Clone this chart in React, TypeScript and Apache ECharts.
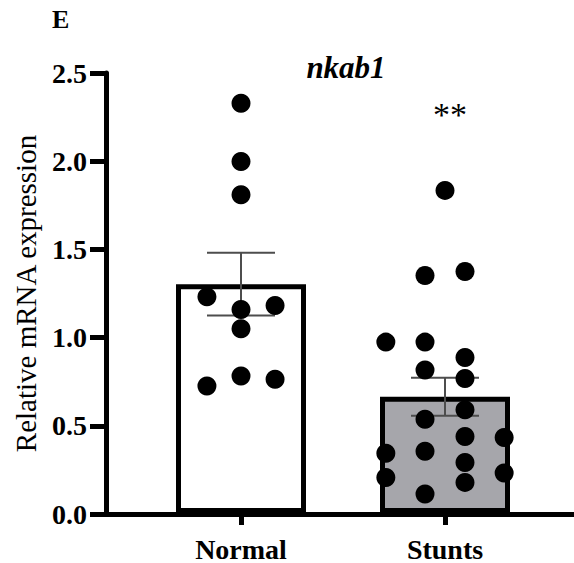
import React, { useEffect, useRef } from "react";
import * as echarts from "echarts";

const categories = ["Normal", "Stunts"];
const means = [1.3, 0.66];
const sems = [0.178, 0.108];
const yTicks = [0, 0.5, 1.0, 1.5, 2.0, 2.5];

// individual points: value and horizontal jitter (in category units)
const normalValues = [2.328, 1.997, 1.808, 1.228, 1.156, 1.179, 1.047, 0.778, 0.722, 0.76];
const normalJitter = [0, 0, 0, -0.167, 0, 0.167, 0, 0, -0.167, 0.167];
const stuntsValues = [
  1.833, 1.349, 1.372, 0.971, 0.971, 0.884, 0.812, 0.764, 0.586, 0.533,
  0.435, 0.429, 0.34, 0.351, 0.287, 0.202, 0.227, 0.174, 0.108,
];
const stuntsJitter = [
  0, -0.098, 0.098, -0.29, -0.098, 0.098, -0.098, 0.098, 0.098, -0.098,
  0.098, 0.29, -0.29, -0.098, 0.098, -0.29, 0.29, 0.098, -0.098,
];

const SERIF = "'Liberation Serif', 'Times New Roman', serif";

export default function App() {
  const ref = useRef<HTMLDivElement>(null);
  useEffect(() => {
    if (!ref.current) return;
    const chart = echarts.init(ref.current, null, { renderer: "svg" });
    const points = [
      ...normalValues.map((v, i) => [0 + normalJitter[i], v]),
      ...stuntsValues.map((v, i) => [1 + stuntsJitter[i], v]),
    ];
    const errData = means.map((m, i) => [i, m, sems[i]]);
    chart.setOption({
      animation: false,
      backgroundColor: "#ffffff",
      title: [
        {
          text: "E",
          left: 47,
          top: 1,
          textStyle: { fontFamily: SERIF, fontWeight: "bold", fontSize: 26, color: "#000" },
        },
        {
          text: "nkab1",
          left: 341,
          top: 47,
          textAlign: "center",
          textStyle: {
            fontFamily: SERIF,
            fontWeight: "bold",
            fontStyle: "italic",
            fontSize: 31,
            color: "#000",
          },
        },
        {
          text: "**",
          left: 445,
          top: 92,
          textAlign: "center",
          textStyle: { fontFamily: SERIF, fontWeight: "normal", fontSize: 34, color: "#000" },
        },
      ],
      grid: [
        { left: 106, right: 0, top: 73, bottom: 49 },
        { left: 139, width: 408, top: 73, bottom: 49 },
      ],
      xAxis: [
        {
          gridIndex: 0,
          type: "value",
          min: 0,
          max: 1,
          axisLine: { show: true, lineStyle: { color: "#000", width: 5 } },
          axisTick: { show: false },
          axisLabel: { show: false },
          splitLine: { show: false },
        },
        {
          gridIndex: 1,
          type: "category",
          data: categories,
          axisLine: { show: false },
          axisTick: { show: true, alignWithLabel: true, length: 12, lineStyle: { color: "#000", width: 5 } },
          axisLabel: {
            margin: 22,
            fontFamily: SERIF,
            fontWeight: "bold",
            fontSize: 28,
            color: "#000",
          },
          splitLine: { show: false },
        },
        {
          gridIndex: 1,
          type: "value",
          min: -0.5,
          max: 1.5,
          show: false,
        },
      ],
      yAxis: [
        {
          gridIndex: 0,
          type: "value",
          min: 0,
          max: 2.5,
          interval: 0.5,
          name: "Relative mRNA expression",
          nameLocation: "middle",
          nameGap: 66,
          nameTextStyle: { fontFamily: SERIF, fontSize: 29, color: "#000" },
          axisLine: { show: true, lineStyle: { color: "#000", width: 5 } },
          axisTick: { show: true, length: 16, lineStyle: { color: "#000", width: 5 } },
          axisLabel: {
            margin: 19,
            fontFamily: SERIF,
            fontWeight: "bold",
            fontSize: 28,
            color: "#000",
            formatter: (v: number) => (yTicks.includes(v) ? v.toFixed(1) : ""),
          },
          splitLine: { show: false },
        },
        {
          gridIndex: 1,
          type: "value",
          min: 0,
          max: 2.5,
          show: false,
        },
      ],
      series: [
        {
          type: "bar",
          xAxisIndex: 1,
          yAxisIndex: 1,
          barWidth: 130,
          z: 2,
          data: means.map((m, i) => ({
            value: m,
            itemStyle: {
              color: i === 0 ? "#ffffff" : "#a6a6ab",
              borderColor: "#000",
              borderWidth: 5,
            },
          })),
        },
        {
          type: "custom",
          xAxisIndex: 2,
          yAxisIndex: 1,
          z: 3,
          data: errData,
          renderItem: (params: any, api: any) => {
            const x = api.value(0);
            const m = api.value(1);
            const s = api.value(2);
            const top = api.coord([x, m + s]);
            const bot = api.coord([x, m - s]);
            const half = 34;
            const style = { stroke: "#4d4d4d", lineWidth: 2 };
            return {
              type: "group",
              children: [
                { type: "line", shape: { x1: top[0], y1: top[1], x2: bot[0], y2: bot[1] }, style },
                { type: "line", shape: { x1: top[0] - half, y1: top[1], x2: top[0] + half, y2: top[1] }, style },
                { type: "line", shape: { x1: bot[0] - half, y1: bot[1], x2: bot[0] + half, y2: bot[1] }, style },
              ],
            };
          },
        },
        {
          type: "scatter",
          xAxisIndex: 2,
          yAxisIndex: 1,
          z: 4,
          symbolSize: 19,
          itemStyle: { color: "#000", opacity: 1 },
          data: points,
        },
      ],
    });
    return () => chart.dispose();
  }, []);
  return (
    <div
      ref={ref}
      style={{ position: "absolute", left: 0, top: 0, width: 574, height: 563, background: "#fff" }}
    />
  );
}
